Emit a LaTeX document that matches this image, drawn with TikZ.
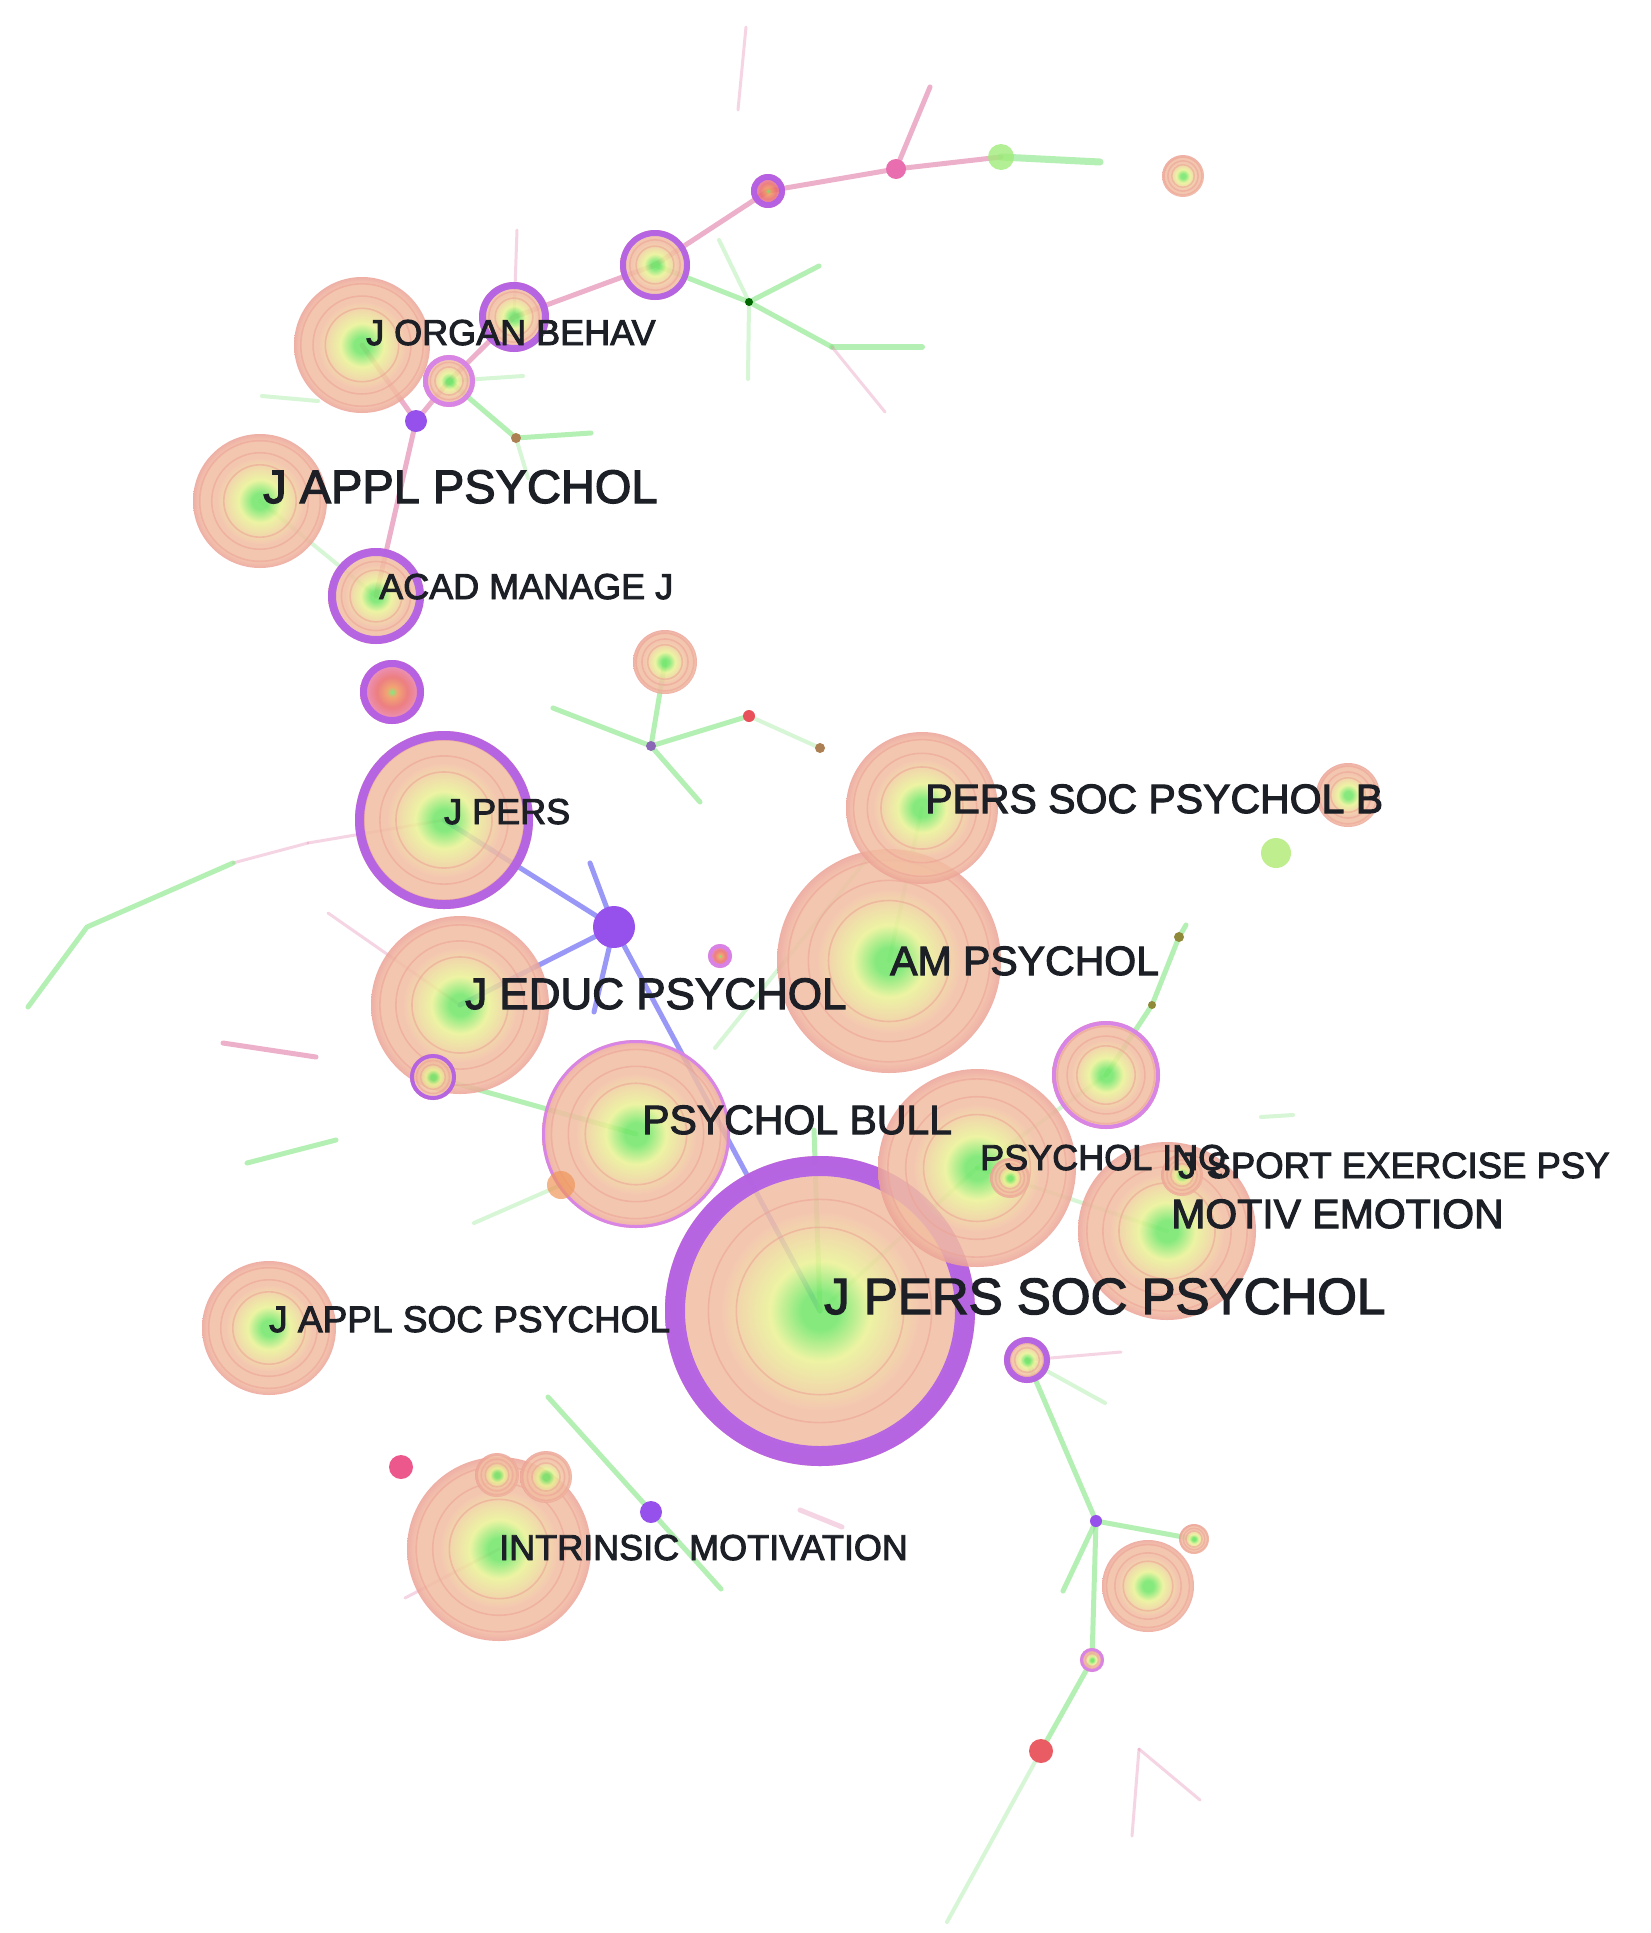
\documentclass[tikz,border=0pt]{standalone}
\usepackage{fontspec}
\setmainfont{Liberation Sans}
\newfontfamily\labfont{Liberation Sans}[FakeBold=2.6]
\definecolor{cgreen}{RGB}{112,230,104}
\definecolor{cyel}{RGB}{234,242,148}
\definecolor{cpeach}{RGB}{242,190,162}
\definecolor{cpink}{RGB}{236,162,150}
\colorlet{cmid}{cyel!50!cpeach}
\definecolor{cring}{RGB}{176,92,232}
\definecolor{cringl}{RGB}{214,128,236}
\definecolor{cred}{RGB}{232,80,90}
\definecolor{corange}{RGB}{240,150,90}
\definecolor{cmag}{RGB}{232,110,175}
\definecolor{cpurp}{RGB}{150,80,235}
\definecolor{eg}{RGB}{140,232,140}
\definecolor{ep}{RGB}{232,150,185}
\definecolor{eb}{RGB}{120,118,245}
\definecolor{txt}{RGB}{28,32,38}
\colorlet{hotA}{cred!70!cpink}
\colorlet{hotB}{cmag!70!cpink}
\pgfdeclareradialshading{citering}{\pgfpoint{0bp}{0bp}}{color(0bp)=(cgreen); color(3bp)=(cgreen); color(8bp)=(cyel); color(12bp)=(cmid); color(16bp)=(cpeach); color(22bp)=(cpeach); color(25bp)=(cpink); color(50bp)=(cpink)}
\pgfdeclareradialshading{hotring}{\pgfpoint{0bp}{0bp}}{color(0bp)=(cgreen); color(4bp)=(corange); color(12bp)=(hotA); color(20bp)=(hotB); color(25bp)=(hotB); color(50bp)=(hotB)}
\newcommand\citenode[2]{%
  \shade[shading=citering, fill opacity=0.85] (#1) circle[radius=#2pt];
  \draw[cpink, draw opacity=0.55, line width=1.6pt] (#1) circle[radius=0.9*#2pt] (#1) circle[radius=0.72*#2pt] (#1) circle[radius=0.54*#2pt];}
\newcommand\hotnode[2]{%
  \shade[shading=hotring, fill opacity=0.85] (#1) circle[radius=#2pt];}
\newcommand\purplering[3]{%
  \draw[cring, line width=#3pt, draw opacity=0.9] (#1) circle[radius=#2pt-0.5*#3pt];}
\newcommand\lightring[3]{%
  \draw[cringl, line width=#3pt, draw opacity=0.9] (#1) circle[radius=#2pt-0.5*#3pt];}
\tikzset{
  gedge/.style={draw=eg, line width=5pt, draw opacity=0.65, line cap=round},
  gfaint/.style={draw=eg, line width=4pt, draw opacity=0.35, line cap=round},
  pedge/.style={draw=ep, line width=5pt, draw opacity=0.75, line cap=round},
  pfaint/.style={draw=ep, line width=3pt, draw opacity=0.4, line cap=round},
  bedge/.style={draw=eb, line width=5pt, draw opacity=0.75, line cap=round},
  lab/.style={anchor=base west, inner sep=0pt, text=txt}
}
\begin{document}
\begin{tikzpicture}[x=1pt, y=-1pt]
\fill[white] (0,0) rectangle (1651,1933);
\useasboundingbox (0,0) rectangle (1651,1933);
% ---------- node positions ----------
\coordinate (jpsp) at (820,1311);
\coordinate (amp) at (889,961);
\coordinate (psb) at (922,808);
\coordinate (jpers) at (444,820);
\coordinate (jeduc) at (460,1005);
\coordinate (pbull) at (636,1134);
\coordinate (pinq) at (977,1168);
\coordinate (pinqs) at (1010,1178);
\coordinate (motiv) at (1167,1231);
\coordinate (sport) at (1182,1175);
\coordinate (ringR) at (1106,1075);
\coordinate (japsoc) at (269,1328);
\coordinate (intrin) at (499,1549);
\coordinate (japp) at (260,501);
\coordinate (jorg) at (362,345);
\coordinate (acad) at (376,596);
\coordinate (n1) at (392,692);
\coordinate (n2) at (449,381);
\coordinate (n3) at (514,317);
\coordinate (n4) at (655,265);
\coordinate (n5) at (768,191);
\coordinate (n6) at (896,169);
\coordinate (n7) at (1001,157);
\coordinate (n8) at (1183,176);
\coordinate (n9) at (665,662);
\coordinate (n10) at (1348,795);
\coordinate (n11) at (1276,853);
\coordinate (hub) at (614,927);
\coordinate (n13) at (720,956);
\coordinate (n14) at (433,1077);
\coordinate (n15) at (561,1185);
\coordinate (n16) at (1027,1360);
\coordinate (n17) at (401,1467);
\coordinate (n18) at (497,1475);
\coordinate (n19) at (546,1477);
\coordinate (n20) at (651,1512);
\coordinate (n21) at (1096,1521);
\coordinate (n22) at (1148,1586);
\coordinate (n23) at (1194,1539);
\coordinate (n24) at (1092,1660);
\coordinate (n25) at (1041,1751);
\coordinate (n26) at (416,421);
\coordinate (d1) at (749,716);
\coordinate (d2) at (820,748);
\coordinate (d3) at (651,746);
\coordinate (d4) at (516,438);
\coordinate (d5) at (1179,937);
\coordinate (d6) at (1152,1005);
\coordinate (d7) at (749,302);
% free ends
\coordinate (e1) at (930,87);
\coordinate (e2) at (517,230);
\coordinate (e3a) at (746,27);
\coordinate (e3b) at (738,110);
\coordinate (e4) at (1100,162);
\coordinate (s1) at (719,240);
\coordinate (s2) at (819,266);
\coordinate (s3) at (748,379);
\coordinate (s4) at (832,347);
\coordinate (s5) at (922,347);
\coordinate (s6) at (885,412);
\coordinate (g1) at (591,433);
\coordinate (g2) at (523,376);
\coordinate (g3) at (528,478);
\coordinate (g4) at (262,396);
\coordinate (g5) at (318,401);
\coordinate (b1) at (590,863);
\coordinate (b2) at (594,1012);
\coordinate (t1) at (553,708);
\coordinate (t2) at (700,802);
\coordinate (L1) at (308,843);
\coordinate (L2) at (233,863);
\coordinate (L3) at (87,927);
\coordinate (L4) at (28,1007);
\coordinate (p1) at (328,913);
\coordinate (p2a) at (223,1043);
\coordinate (p2b) at (316,1057);
\coordinate (g6a) at (247,1163);
\coordinate (g6b) at (336,1140);
\coordinate (g8) at (474,1223);
\coordinate (g9a) at (715,1048);
\coordinate (g9b) at (868,858);
\coordinate (u1) at (1186,925);
\coordinate (u2a) at (1261,1117);
\coordinate (u2b) at (1293,1115);
\coordinate (v1) at (814,1130);
\coordinate (w1) at (1121,1352);
\coordinate (w2) at (1105,1403);
\coordinate (w3) at (1063,1591);
\coordinate (w4) at (947,1922);
\coordinate (k1) at (1139,1749);
\coordinate (k2) at (1132,1836);
\coordinate (k3) at (1200,1800);
\coordinate (m1) at (548,1397);
\coordinate (m2) at (721,1589);
\coordinate (m3) at (800,1510);
\coordinate (m4) at (842,1527);
\coordinate (i1) at (405,1598);
% ---------- edges ----------
\draw[pfaint] (e3a) -- (e3b);
\draw[pedge] (n6) -- (e1);
\draw[pfaint] (n3) -- (e2);
\draw[pedge] (jorg) -- (n26);
\draw[pedge] (acad) -- (n26) -- (n2) -- (n3) -- (n4) -- (n5) -- (n6) -- (n7);
\draw[gedge, line width=7pt] (n7) -- (e4);
\draw[gedge] (d7) -- (n4);
\draw[gfaint] (d7) -- (s1);
\draw[gedge] (d7) -- (s2);
\draw[gfaint] (d7) -- (s3);
\draw[gedge] (d7) -- (s4);
\draw[gedge, line width=6pt] (s4) -- (s5);
\draw[pfaint] (s4) -- (s6);
\draw[gedge] (n2) -- (d4) -- (g1);
\draw[gfaint] (n2) -- (g2);
\draw[gfaint] (d4) -- (g3);
\draw[gfaint] (g4) -- (g5);
\draw[gfaint] (japp) -- (acad);
\draw[bedge] (jpers) -- (hub);
\draw[bedge] (hub) -- (jeduc);
\draw[bedge] (hub) -- (b1);
\draw[bedge] (hub) -- (b2);
\draw[bedge] (hub) -- (jpsp);
\draw[gedge] (n9) -- (d3);
\draw[gedge] (d3) -- (t1);
\draw[gedge] (d3) -- (d1);
\draw[gedge] (d3) -- (t2);
\draw[gfaint] (d1) -- (d2);
\draw[pfaint] (jpers) -- (L1);
\draw[pfaint] (L1) -- (L2);
\draw[gedge] (L2) -- (L3) -- (L4);
\draw[pfaint] (p1) -- (jeduc);
\draw[pedge] (p2a) -- (p2b);
\draw[gedge] (g6a) -- (g6b);
\draw[gedge] (n14) -- (pbull);
\draw[gfaint] (g8) -- (n15);
\draw[gfaint] (g9a) -- (g9b);
\draw[gfaint] (psb) -- (amp);
\draw[gedge] (ringR) -- (d6) -- (d5) -- (u1);
\draw[gfaint] (ringR) -- (pinq);
\draw[gfaint] (u2a) -- (u2b);
\draw[gedge] (jpsp) -- (v1);
\draw[gfaint] (jpsp) -- (pinq);
\draw[gfaint] (motiv) -- (pinq);
\draw[gedge] (n16) -- (n21);
\draw[pfaint] (n16) -- (w1);
\draw[gfaint] (n16) -- (w2);
\draw[gedge] (n21) -- (n23);
\draw[gedge] (n21) -- (w3);
\draw[gedge] (n21) -- (n24) -- (n25);
\draw[gfaint] (n25) -- (w4);
\draw[pfaint] (k1) -- (k2);
\draw[pfaint] (k1) -- (k3);
\draw[gedge] (m1) -- (m2);
\draw[pfaint, line width=5pt] (m3) -- (m4);
\draw[pfaint] (intrin) -- (i1);
% ---------- circles ----------
\citenode{jpsp}{155}
\purplering{jpsp}{155}{20}
\citenode{amp}{112}
\citenode{psb}{76}
\citenode{pinq}{99}
\citenode{pbull}{94}
\lightring{pbull}{94}{3}
\citenode{motiv}{89}
\citenode{jpers}{89}
\purplering{jpers}{89}{9}
\citenode{jeduc}{89}
\citenode{intrin}{92}
\citenode{japsoc}{67}
\citenode{japp}{67}
\citenode{jorg}{68}
\citenode{ringR}{54}
\lightring{ringR}{54}{4}
\citenode{pinqs}{20}
\citenode{sport}{21}
\citenode{acad}{48}
\purplering{acad}{48}{8}
\hotnode{n1}{32}
\purplering{n1}{32}{7}
\citenode{n2}{26}
\lightring{n2}{26}{5}
\citenode{n3}{35}
\purplering{n3}{35}{7}
\citenode{n4}{35}
\purplering{n4}{35}{6}
\hotnode{n5}{17}
\purplering{n5}{17}{6}
\fill[cmag] (n6) circle[radius=10pt];
\fill[cgreen!60!cyel, fill opacity=0.8] (n7) circle[radius=13pt];
\citenode{n8}{21}
\citenode{n9}{32}
\citenode{n10}{32}
\fill[cgreen!40!cyel, fill opacity=0.9] (n11) circle[radius=15pt];
\fill[cpurp] (hub) circle[radius=21pt];
\hotnode{n13}{12}
\lightring{n13}{12}{4}
\citenode{n14}{23}
\purplering{n14}{23}{4}
\fill[corange, fill opacity=0.7] (n15) circle[radius=14pt];
\citenode{n16}{23}
\purplering{n16}{23}{6}
\fill[cmag!80!red] (n17) circle[radius=12pt];
\citenode{n18}{22}
\citenode{n19}{26}
\fill[cpurp] (n20) circle[radius=11pt];
\fill[cpurp] (n21) circle[radius=6pt];
\citenode{n22}{46}
\citenode{n23}{15}
\citenode{n24}{12}
\lightring{n24}{12}{3}
\fill[cred!85!cpink] (n25) circle[radius=12pt];
\fill[cpurp] (n26) circle[radius=11pt];
\fill[cred] (d1) circle[radius=6pt];
\fill[brown!70!gray] (d2) circle[radius=5pt];
\fill[cpurp!50!gray] (d3) circle[radius=5pt];
\fill[brown!70!gray] (d4) circle[radius=5pt];
\fill[olive!60!gray] (d5) circle[radius=5pt];
\fill[olive!60!gray] (d6) circle[radius=4pt];
\fill[black!60!green] (d7) circle[radius=4pt];
% ---------- labels ----------
\node[lab, font=\labfont\fontsize{51}{51}\selectfont] (ljpsp) at (824,1314) {J PERS SOC PSYCHOL};
\node[lab, font=\labfont\fontsize{47}{47}\selectfont] (ljapp) at (263,503) {J APPL PSYCHOL};
\node[lab, font=\labfont\fontsize{44}{44}\selectfont] (ljeduc) at (465,1009) {J EDUC PSYCHOL};
\node[lab, font=\labfont\fontsize{41}{41}\selectfont] (lpsb) at (925,813) {PERS SOC PSYCHOL B};
\node[lab, font=\labfont\fontsize{41}{41}\selectfont] (lamp) at (890,975) {AM PSYCHOL};
\node[lab, font=\labfont\fontsize{41}{41}\selectfont] (lpbull) at (642,1134) {PSYCHOL BULL};
\node[lab, font=\labfont\fontsize{36}{36}\selectfont] (lpinq) at (980,1170) {PSYCHOL INQ};
\node[lab, font=\labfont\fontsize{36.5}{36.5}\selectfont] (lsport) at (1178,1178) {J SPORT EXERCISE PSY};
\node[lab, font=\labfont\fontsize{41}{41}\selectfont] (lmotiv) at (1171,1228) {MOTIV EMOTION};
\node[lab, font=\labfont\fontsize{37}{37}\selectfont] (ljapsoc) at (269,1332) {J APPL SOC PSYCHOL};
\node[lab, font=\labfont\fontsize{36}{36}\selectfont] (lintrin) at (499,1560) {INTRINSIC MOTIVATION};
\node[lab, font=\labfont\fontsize{36}{36}\selectfont] (ljorg) at (366,345) {J ORGAN BEHAV};
\node[lab, font=\labfont\fontsize{36}{36}\selectfont] (lacad) at (379,599) {ACAD MANAGE J};
\node[lab, font=\labfont\fontsize{36}{36}\selectfont] (ljpers) at (444,824) {J PERS};
\end{tikzpicture}
\end{document}
